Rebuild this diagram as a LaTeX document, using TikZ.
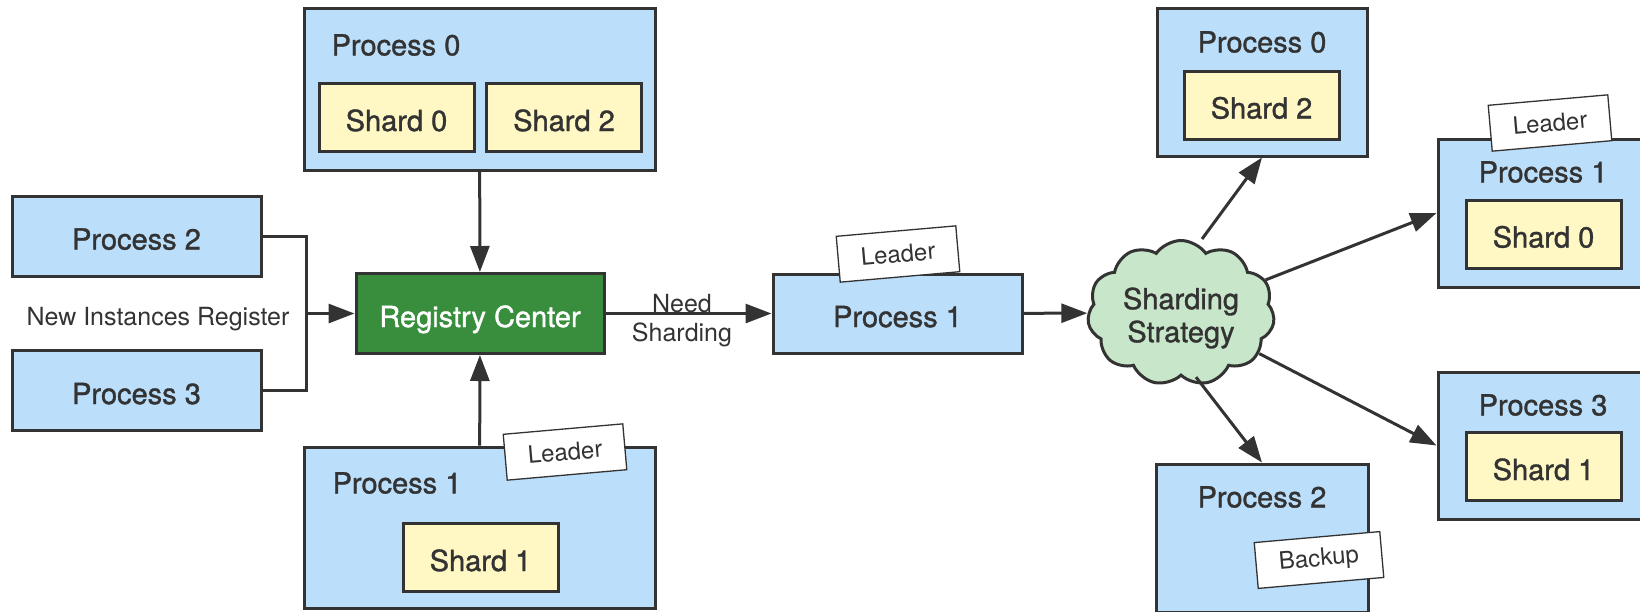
\documentclass[tikz,border=0pt]{standalone}
\usepackage{fontspec}
\setmainfont{TeX Gyre Heros}
\newfontfamily\medfont[FakeBold=1.2]{TeX Gyre Heros}
\usepackage{tikz}
\usetikzlibrary{arrows.meta,shapes.symbols,positioning}
\definecolor{ink}{HTML}{333333}
\definecolor{procblue}{HTML}{BBDEFA}
\definecolor{shardyellow}{HTML}{FFF8C4}
\definecolor{reggreen}{HTML}{388E3C}
\definecolor{cloudgreen}{HTML}{C8E6C9}
\tikzset{
  box/.style={draw=ink, line width=3pt, inner sep=0pt, text=ink, text height=27pt, text depth=0pt,
    font=\medfont\fontsize{29}{31}\selectfont},
  proc/.style={box, fill=procblue},
  shard/.style={box, fill=shardyellow, minimum width=155pt, minimum height=68pt},
  reg/.style={box, fill=reggreen, text=white},
  strat/.style={cloud, cloud puffs=11, cloud puff arc=110, draw=ink, line width=3pt, fill=cloudgreen,
    minimum width=187pt, minimum height=145pt, inner sep=0pt},
  plab/.style={text=ink, font=\medfont\fontsize{29}{33}\selectfont, align=center},
  tagbox/.style={draw=ink, fill=white, line width=1.3pt, minimum width=120pt, minimum height=46pt, rotate=5,
    text=ink, font=\fontsize{24}{26}\selectfont},
  lab/.style={text=ink, font=\fontsize{25}{29}\selectfont, align=center},
  wire/.style={draw=ink, line width=3pt},
  arr/.style={wire, -{Triangle[length=26pt,width=19pt]}},
}
\begin{document}
\begin{tikzpicture}[x=1pt,y=-1pt]
\useasboundingbox (0,0) rectangle (1640,611);
\node[proc, minimum width=351pt, minimum height=162pt] (p0l) at (479.5,89) {};
\node[plab] (p0l-t) at (396,45) {Process 0};
\node[shard] (s0l) at (396.5,117.5) {Shard 0};
\node[shard] (s2l) at (564,117.5) {Shard 2};
\node[proc, minimum width=249pt, minimum height=80pt] (p2l) at (136.5,236) {Process 2};
\node[proc, minimum width=249pt, minimum height=80pt] (p3l) at (136.5,390.5) {Process 3};
\node[reg, minimum width=248pt, minimum height=80pt] (rc) at (480,313.5) {Registry Center};
\node[proc, minimum width=351pt, minimum height=161pt] (p1l) at (479.5,527.5) {};
\node[plab] (p1l-t) at (397,483) {Process 1};
\node[shard] (s1l) at (480.5,557.5) {Shard 1};
\node[tagbox] (ldl) at (565,452) {Leader};
\node[lab] (nir) at (158,319) {New Instances Register};
\coordinate (jn) at ([xshift=-48pt]rc.west);
\draw[wire] (p2l.east) -| (jn);
\draw[wire] (p3l.east) -| (jn);
\draw[arr] (jn) -- (rc.west);
\draw[arr] (p0l) -- (rc);
\draw[arr] (p1l) -- (rc);

\node[proc, minimum width=249pt, minimum height=79pt] (p1m) at (897.5,313.5) {Process 1};
\node[tagbox] (ldm) at (898,254) {Leader};
\draw[arr] (rc) -- (p1m);
\node[lab] (need) at (682,321) {Need\\Sharding};
\node[strat] (ss) at (1181,313) {};
\node[plab] (ss-t) at (1181,318) {Sharding\\Strategy};
\draw[arr] (p1m) -- (ss);

\node[proc, minimum width=210pt, minimum height=148pt] (p0r) at (1262,82) {};
\node[plab] (p0r-t) at (1262,42) {Process 0};
\node[shard] (s2r) at (1261.5,105) {Shard 2};
\node[proc, minimum width=210pt, minimum height=148pt] (p1r) at (1543,213) {};
\node[plab] (p1r-t) at (1543,172) {Process 1};
\node[shard] (s0r) at (1543.5,234) {Shard 0};
\node[tagbox] (ldr) at (1550,123) {Leader};
\node[proc, minimum width=210pt, minimum height=147pt] (p3r) at (1543,445.5) {};
\node[plab] (p3r-t) at (1543,405) {Process 3};
\node[shard] (s1r) at (1543.5,466.5) {Shard 1};
\node[proc, minimum width=212pt, minimum height=148pt] (p2r) at (1262,538) {};
\node[plab] (p2r-t) at (1262,497) {Process 2};
\node[tagbox, minimum width=126pt] (bku) at (1319,560) {Backup};
\draw[arr] ([xshift=21pt]ss.north) -- (p0r.south);
\draw[arr] (ss) -- (p1r.west);
\draw[arr] (ss) -- (p3r.west);
\draw[arr] ([xshift=15pt]ss.south) -- (p2r.north);
\end{tikzpicture}
\end{document}
